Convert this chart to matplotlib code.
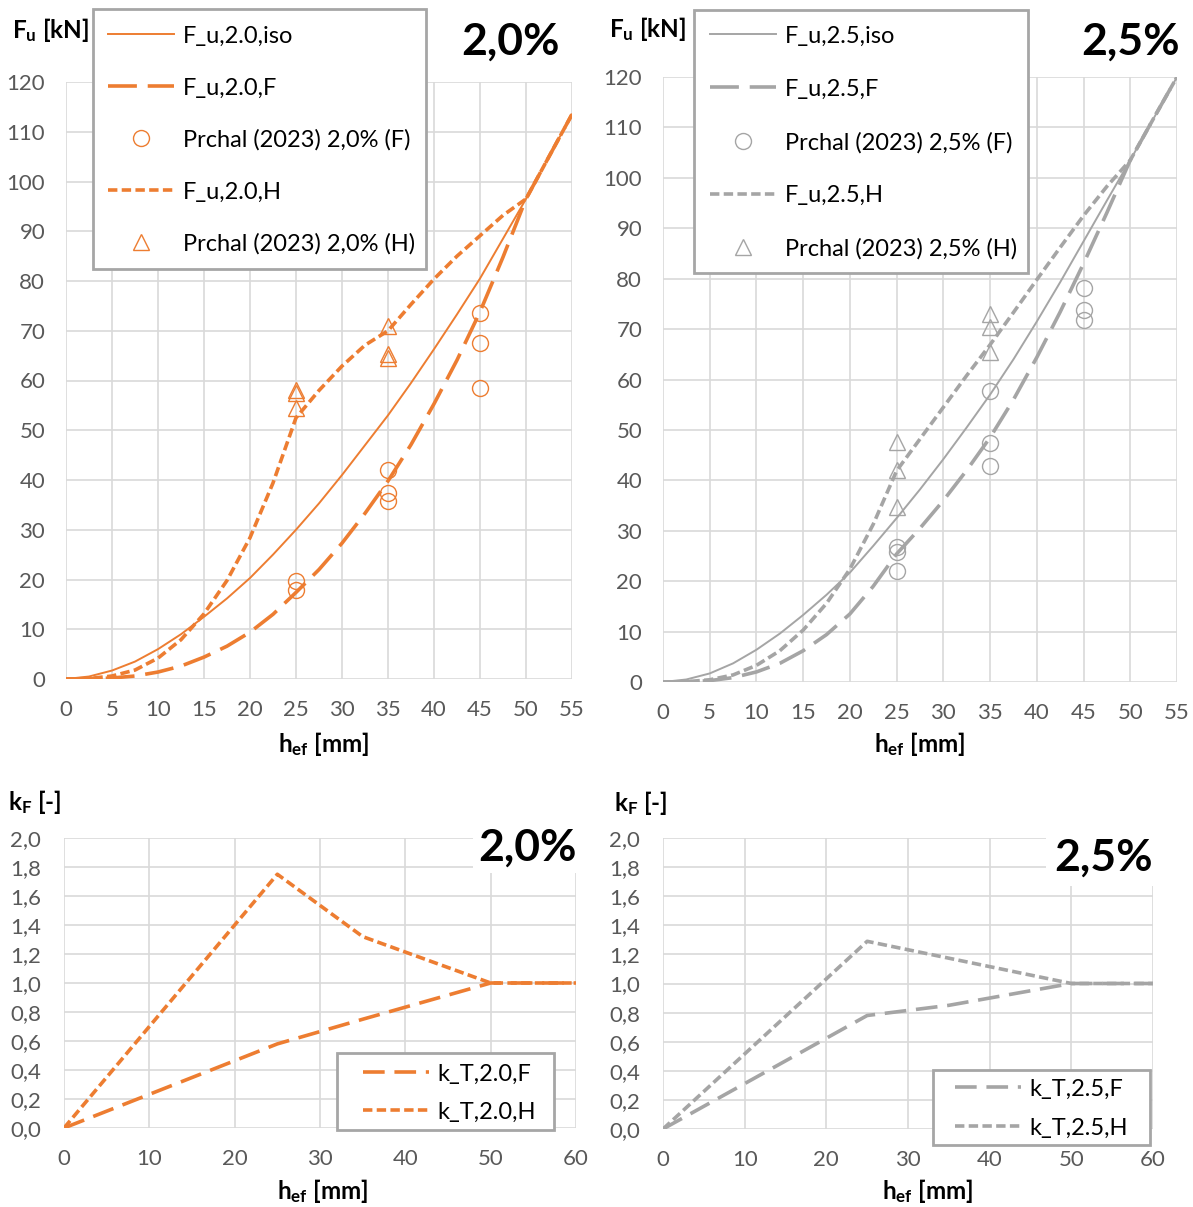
import numpy as np
import matplotlib
matplotlib.use("Agg")
import matplotlib.pyplot as plt
from matplotlib.patches import Rectangle

plt.rcParams['font.family'] = ['Lato', 'DejaVu Sans']
plt.rcParams['mathtext.fontset'] = 'custom'
plt.rcParams['mathtext.rm'] = 'Lato'
plt.rcParams['mathtext.bf'] = 'Lato:bold'
plt.rcParams['mathtext.it'] = 'Lato:italic'

# ---------------- data ----------------
h_curve = [0, 2.5, 5, 7.5, 10, 12.5, 15, 17.5, 20, 22.5, 25, 27.5, 30,
           32.5, 35, 37.5, 40, 42.5, 45, 47.5, 50, 52.5, 55]

fu20_iso = [0, 0.5, 1.7, 3.5, 6.0, 9.0, 12.5, 16.2, 20.3, 25.0, 30.0, 35.3, 41.0,
            47.0, 53.0, 59.5, 66.3, 73.3, 80.5, 88.5, 96.5, 105.0, 113.5]
fu20_F = [0, 0.03, 0.2, 0.6, 1.4, 2.6, 4.4, 6.6, 9.4, 13.0, 17.4, 22.0, 27.3,
          33.3, 39.8, 47.1, 55.3, 64.1, 73.8, 84.8, 96.5, 105.0, 113.5]
fu20_H = [0, 0.09, 0.6, 1.8, 4.2, 7.9, 13.1, 19.8, 28.4, 39.4, 52.5, 58.0, 62.9,
          67.1, 70.0, 75.3, 80.4, 85.0, 89.1, 93.2, 96.5, 105.0, 113.5]

fu25_iso = [0, 0.5, 1.7, 3.7, 6.4, 9.6, 13.3, 17.3, 21.7, 27.0, 32.5, 38.2, 44.2,
            50.5, 57.0, 64.0, 71.5, 79.3, 87.4, 95.5, 103.5, 111.8, 120.0]
fu25_F = [0, 0.04, 0.27, 0.87, 2.0, 3.7, 6.2, 9.4, 13.5, 19.0, 25.4, 30.5, 36.0,
          42.0, 48.5, 56.0, 64.4, 73.4, 83.0, 93.1, 103.5, 111.8, 120.0]
fu25_H = [0, 0.06, 0.44, 1.4, 3.3, 6.2, 10.3, 15.6, 22.4, 31.3, 41.9, 48.2, 54.5,
          60.8, 66.9, 73.3, 79.8, 86.2, 92.5, 98.3, 103.5, 111.8, 120.0]

# Prchal (2023) test results
p20F_h = [25, 25, 35, 35, 35, 45, 45, 45]
p20F = [19.7, 17.8, 42.0, 37.4, 35.8, 73.6, 67.6, 58.5]
p20H_h = [25, 25, 25, 35, 35, 35]
p20H = [58.1, 57.4, 54.5, 70.9, 65.4, 64.5]

p25F_h = [25, 25, 25, 35, 35, 35, 45, 45, 45]
p25F = [26.8, 25.8, 22.1, 57.7, 47.4, 42.8, 78.1, 73.7, 71.8]
p25H_h = [25, 25, 25, 35, 35, 35]
p25H = [47.6, 42.0, 34.8, 73.0, 70.5, 65.5]

# k_T factors
kt20_F_h = [0, 25, 35, 50, 60]
kt20_F = [0, 0.58, 0.75, 1.0, 1.0]
kt20_H_h = [0, 25, 35, 50, 60]
kt20_H = [0, 1.75, 1.32, 1.0, 1.0]

kt25_F_h = [0, 25, 35, 50, 60]
kt25_F = [0, 0.78, 0.85, 1.0, 1.0]
kt25_H_h = [0, 25, 50, 60]
kt25_H = [0, 1.29, 1.0, 1.0]

fu_yticks = list(range(0, 121, 10))
fu_xticks = list(range(0, 56, 5))
kt_yticks = [0.0, 0.2, 0.4, 0.6, 0.8, 1.0, 1.2, 1.4, 1.6, 1.8, 2.0]
kt_ylabels = ['0,0', '0,2', '0,4', '0,6', '0,8', '1,0', '1,2', '1,4', '1,6', '1,8', '2,0']
kt_xticks = [0, 10, 20, 30, 40, 50, 60]

# ---------------- styling ----------------
ORANGE = '#ED7D31'
GREY = '#A5A5A5'
GRID = '#D9D9D9'
TICKC = '#595959'
LEGEDGE = '#A6A6A6'

TICK_FS = 16
LEG_FS = 17
LAB_FS = 17.5

W, H = 1193, 1207
fig = plt.figure(figsize=(W / 100, H / 100), dpi=100)
FS_PX = LEG_FS * 100 / 72.0
ROW_PX = 0.90 * FS_PX      # height of one legend row
ROW_SHIFT = 1.3            # handle sits slightly above the row centre


def px_axes(l, t, r, b):
    return fig.add_axes([l / W, 1 - b / H, (r - l) / W, (b - t) / H])


def style(ax, xticks, yticks, ylabels=None, ypad=15):
    ax.set_xlim(xticks[0], xticks[-1])
    ax.set_ylim(yticks[0], yticks[-1])
    ax.set_xticks(xticks)
    ax.set_yticks(yticks)
    if ylabels is not None:
        ax.set_yticklabels(ylabels)
    ax.grid(True, color=GRID, lw=1.2)
    ax.set_axisbelow(True)
    for s in ax.spines.values():
        s.set_visible(False)
    ax.tick_params(length=0, labelsize=TICK_FS, labelcolor=TICKC)
    ax.tick_params(axis='y', pad=ypad)
    ax.tick_params(axis='x', pad=15)


def legend_box(ax, handles, labels, frame, handle_x, rows):
    """Framed legend: frame=(l, t, r, b) in px, handle start x, row centres y."""
    l, t, r, b = frame
    ax.add_patch(Rectangle((l / W, 1 - b / H), (r - l) / W, (b - t) / H,
                           transform=fig.transFigure, facecolor='white',
                           edgecolor=LEGEDGE, lw=2.0, zorder=9, clip_on=False))
    step = (rows[-1] - rows[0]) / (len(rows) - 1)
    ls = (step - ROW_PX) / FS_PX
    top = rows[0] - ROW_PX / 2 + ROW_SHIFT
    leg = ax.legend(handles, labels, loc='upper left',
                    bbox_to_anchor=(handle_x / W, 1 - top / H),
                    bbox_transform=fig.transFigure, fontsize=LEG_FS,
                    handlelength=2.8, handletextpad=0.36, labelspacing=ls,
                    borderpad=0, borderaxespad=0, numpoints=1,
                    frameon=False)
    leg.set_zorder(10)
    return leg


LW_ISO = 1.4
LW_D = 2.6
DASH_LONG = (8, 3)
DASH_SHORT = (2.6, 1.2)
DASH_K = (6, 2.7)
MS = 11.5


def fu_panel(ax, color, iso, F, H_, pFh, pF, pHh, pH, tag, frame, hx, rows):
    l1, = ax.plot(h_curve, iso, color=color, lw=LW_ISO)
    l2, = ax.plot(h_curve, F, color=color, lw=LW_D, dashes=DASH_LONG,
                  dash_capstyle='butt')
    m1, = ax.plot(pFh, pF, ls='none', marker='o', ms=MS, mfc='none',
                  mec=color, mew=1.0)
    l3, = ax.plot(h_curve, H_, color=color, lw=LW_D, dashes=DASH_SHORT,
                  dash_capstyle='butt')
    m2, = ax.plot(pHh, pH, ls='none', marker='^', ms=MS, mfc='none',
                  mec=color, mew=1.0)
    style(ax, fu_xticks, fu_yticks)
    pct = tag.replace('.', ',')
    labels = [f'F_u,{tag},iso', f'F_u,{tag},F', f'Prchal (2023) {pct}% (F)',
              f'F_u,{tag},H', f'Prchal (2023) {pct}% (H)']
    legend_box(ax, [l1, l2, m1, l3, m2], labels, frame, hx, rows)


def kt_panel(ax, color, Fh, F, Hh, H_, tag, frame, hx, rows):
    l1, = ax.plot(Fh, F, color=color, lw=LW_D, dashes=DASH_K,
                  dash_capstyle='butt')
    l2, = ax.plot(Hh, H_, color=color, lw=LW_D, dashes=DASH_SHORT,
                  dash_capstyle='butt')
    style(ax, kt_xticks, kt_yticks, kt_ylabels, ypad=16.5)
    legend_box(ax, [l1, l2], [f'k_T,{tag},F', f'k_T,{tag},H'], frame, hx, rows)


ax1 = px_axes(66, 82, 572, 679)
fu_panel(ax1, ORANGE, fu20_iso, fu20_F, fu20_H, p20F_h, p20F, p20H_h, p20H,
         '2.0', (93, 9, 426, 269), 108, [35, 87, 139, 191, 243])
ax2 = px_axes(663, 77, 1177, 682)
fu_panel(ax2, GREY, fu25_iso, fu25_F, fu25_H, p25F_h, p25F, p25H_h, p25H,
         '2.5', (694, 10, 1028, 273), 710, [35, 89, 142, 195, 248])
ax3 = px_axes(64, 838, 576, 1128)
kt_panel(ax3, ORANGE, kt20_F_h, kt20_F, kt20_H_h, kt20_H, '2.0',
         (337, 1053, 554, 1130), 363, [1073, 1111])
ax4 = px_axes(663, 838, 1153, 1129)
kt_panel(ax4, GREY, kt25_F_h, kt25_F, kt25_H_h, kt25_H, '2.5',
         (933, 1070, 1150, 1145), 955, [1088, 1127])


def ftext(x, y, s, **kw):
    fig.text(x / W, 1 - y / H, s, **kw)


# panel tags
ftext(560, 42, '2,0%', ha='right', va='center', fontsize=32, weight='bold')
ftext(1180, 42, '2,5%', ha='right', va='center', fontsize=32, weight='bold')
ftext(577, 848, '2,0%', ha='right', va='center', fontsize=32, weight='bold',
      bbox=dict(facecolor='white', edgecolor='none', pad=4), zorder=5)
ftext(1153, 858, '2,5%', ha='right', va='center', fontsize=32, weight='bold',
      bbox=dict(facecolor='white', edgecolor='none', pad=6), zorder=5)

# axis titles
fu_lab = r'F$_\mathbf{u}$ [kN]'
kf_lab = r'k$_\mathbf{F}$ [-]'
he_lab = r'h$_\mathbf{ef}$ [mm]'
ftext(12, 30, fu_lab, ha='left', va='center', fontsize=LAB_FS, weight='bold')
ftext(609, 29, fu_lab, ha='left', va='center', fontsize=LAB_FS, weight='bold')
ftext(8, 802, kf_lab, ha='left', va='center', fontsize=LAB_FS, weight='bold')
ftext(614, 803, kf_lab, ha='left', va='center', fontsize=LAB_FS, weight='bold')
ftext(324, 744, he_lab, ha='center', va='center', fontsize=LAB_FS, weight='bold')
ftext(920, 744, he_lab, ha='center', va='center', fontsize=LAB_FS, weight='bold')
ftext(323, 1191, he_lab, ha='center', va='center', fontsize=LAB_FS, weight='bold')
ftext(928, 1191, he_lab, ha='center', va='center', fontsize=LAB_FS, weight='bold')

fig.savefig('out.png', dpi=100, facecolor='white')
